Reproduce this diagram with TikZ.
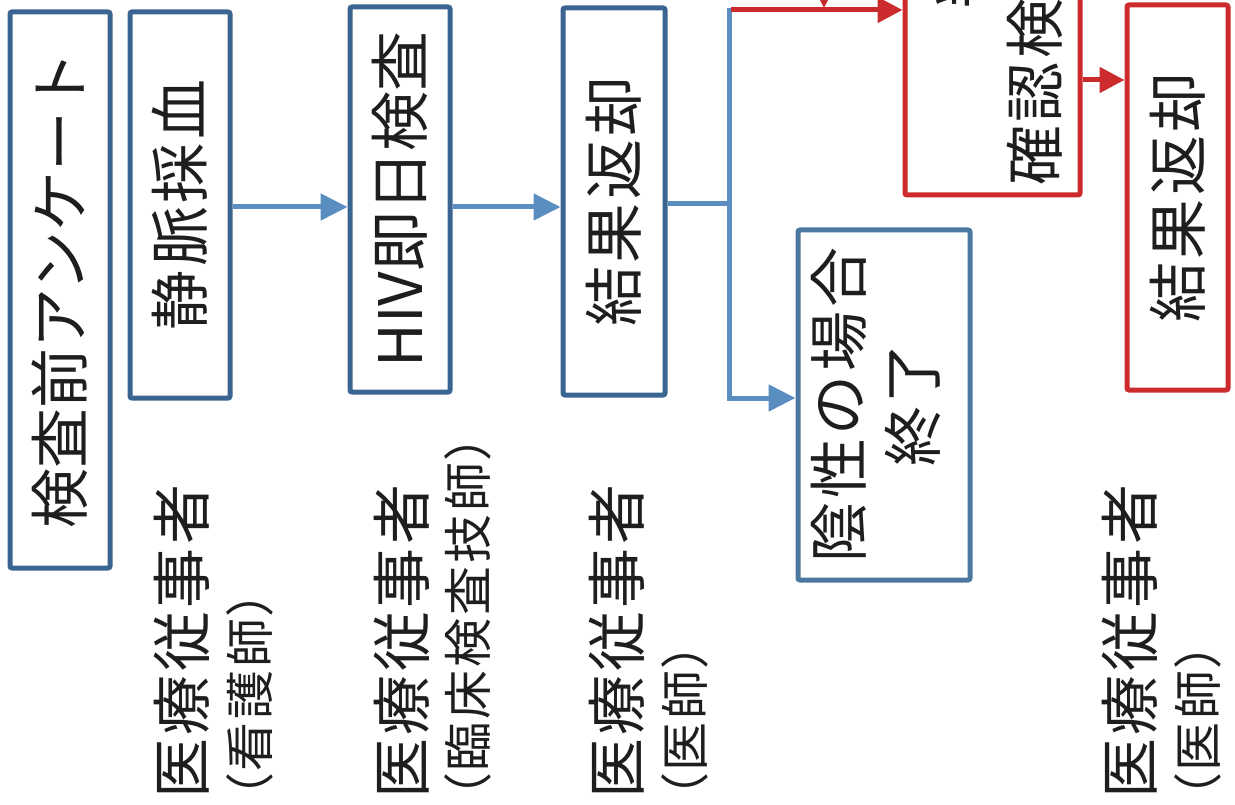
\documentclass[tikz,border=0pt]{standalone}
\usepackage{fontspec}
\usepackage{graphicx}
\setmainfont{Noto Sans CJK JP}
\newfontfamily\jpspaced[LetterSpace=6]{Noto Sans CJK JP}
\newfontfamily\jpsmall[RawFeature=+palt, LetterSpace=6]{Noto Sans CJK JP}
\usetikzlibrary{arrows.meta}
\definecolor{boxblue}{HTML}{3B6591}
\definecolor{boxbluelight}{HTML}{4C77A1}
\definecolor{arrowblue}{HTML}{5A8EC1}
\definecolor{boxred}{HTML}{CC2B2E}
\definecolor{inkblack}{HTML}{1E1E1E}
\tikzset{
  bigtext/.style={font=\jpspaced\fontsize{60}{74}\selectfont, text=inkblack, inner sep=0pt},
  smalltext/.style={font=\jpsmall\fontsize{49}{58}\selectfont, text=inkblack, inner sep=0pt},
  flowbox/.style={draw=boxblue, line width=5pt, rounded corners=2pt, fill=white,
    inner sep=0pt, font=\jpspaced\fontsize{60}{74}\selectfont, text=inkblack},
  plainbox/.style={flowbox, font=\fontsize{60}{74}\selectfont},
  endbox/.style={flowbox, draw=boxbluelight},
  redbox/.style={flowbox, draw=boxred},
  label/.style={bigtext, rotate=90, anchor=west},
  sublabel/.style={smalltext, rotate=90, anchor=west},
  bline/.style={draw=arrowblue, line width=5pt},
  barrow/.style={bline, -{Triangle[length=27pt, width=26pt]}},
  rline/.style={draw=boxred, line width=5pt},
  rarrow/.style={rline, -{Triangle[length=25pt, width=25pt]}},
}
\begin{document}
\begin{tikzpicture}[x=1pt, y=-1pt]
\useasboundingbox (0,0) rectangle (1235,805);
\fill[white] (0,0) rectangle (1235,805);
\clip (0,0) rectangle (1235,805);

% boxes
\node[plainbox, minimum width=100pt, minimum height=556pt] (A) at (60,290)
  {\rotatebox{90}{検査前アンケート}};
\node[flowbox, minimum width=100pt, minimum height=386pt] (B) at (180,205)
  {\rotatebox{90}{静脈採血}};
\node[plainbox, minimum width=100pt, minimum height=385pt] (C) at (400,199.5)
  {\rotatebox{90}{HIV即日検査}};
\node[flowbox, minimum width=102pt, minimum height=387pt] (D) at (614,201.5)
  {\rotatebox{90}{結果返却}};
\node[endbox, minimum width=172pt, minimum height=350pt] (E) at (884,405)
  {\rotatebox{90}{\begin{tabular}{@{}c@{}}陰性の場合\\終了\end{tabular}}};
\node[redbox, minimum width=175pt, minimum height=520pt] (F) at (992.5,-65) {};
\node[label] (F1) at (961,9) {判定保留の場合};
\node[label] (F2) at (1035,186) {確認検査};
\node[redbox, minimum width=101pt, minimum height=385pt] (G) at (1177.5,197.5)
  {\rotatebox{90}{結果返却}};

% staff labels
\node[label] (L1) at (182,799) {医療従事者};
\node[sublabel] (S1) at (250,799) {（看護師）};
\node[label] (L2) at (402,799) {医療従事者};
\node[sublabel] (S2) at (468,799) {（臨床検査技師）};
\node[label] (L3) at (617,799) {医療従事者};
\node[sublabel] (S3) at (685,799) {（医師）};
\node[label] (L4) at (1130,799) {医療従事者};
\node[sublabel] (S4) at (1198,799) {（医師）};

% connectors
\coordinate (row1) at (0,207);
\draw[barrow] (B.east |- row1) -- (C.west |- row1);
\draw[barrow] (C.east |- row1) -- (D.west |- row1);
\coordinate (jt) at (729,8);
\coordinate (jm) at (729,204);
\coordinate (jb) at (729,398);
\draw[bline] (D.east |- jm) -- (jm);
\draw[barrow] (jt) -- (jb) -- (E.west |- jb);
\coordinate (rt) at (731,10);
\draw[rarrow] (rt) -- (F.west |- rt);
\coordinate (dtop) at (824,-60);
\coordinate (dtip) at (824,8);
\draw[rarrow] (dtop) -- (dtip);
\coordinate (row2) at (0,80);
\draw[rarrow] (F.east |- row2) -- (G.west |- row2);
\end{tikzpicture}
\end{document}
